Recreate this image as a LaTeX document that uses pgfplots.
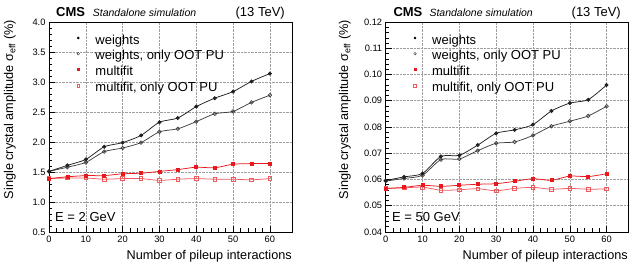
\documentclass[border=0pt]{standalone}
\usepackage{pgfplots}
\pgfplotsset{compat=1.18}
\usepackage{fontspec}
\setmainfont{Liberation Sans}

% series colours
\definecolor{wline}{HTML}{202020}
\definecolor{woot}{HTML}{404040}
\definecolor{mfred}{HTML}{E8181C}
\definecolor{mfoot}{HTML}{F05A5E}

\pgfplotsset{
  cmspanel/.style={
    scale only axis, width=243pt, height=210pt,
    anchor=south west,
    xmin=0, xmax=66,
    xtick={0,10,...,60}, minor x tick num=4,
    minor y tick num=4,
    tick align=inside, tick pos=left,
    major tick length=6pt, minor tick length=3.5pt,
    every tick/.style={black, line width=0.5pt},
    axis line style={line width=0.6pt},
    grid=major,
    major grid style={densely dotted, gray!75, line width=0.5pt},
    ticklabel style={font=\fontsize{9.3}{10}\selectfont},
    /pgf/number format/assume math mode=true,
    xticklabel style={/pgf/number format/precision=0},
    legend style={draw=none, fill=none, anchor=north west,
      at={(rel axis cs:0.09,0.955)},
      font=\fontsize{13}{15}\selectfont,
      nodes={inner sep=0pt, text height=10.5pt, text depth=5.3pt},
      cells={anchor=west}},
    legend cell align=left,
    legend image code/.code={
      \path (-4pt,0pt) (17pt,0pt);
      \draw[#1] plot coordinates {(0pt,3.6pt)};
    },
  },
  wts/.style={color=wline, line width=0.75pt, mark=*, mark size=1.6pt, smooth, tension=0.4},
  wtsoot/.style={color=woot, line width=0.75pt, mark=o, mark size=1.8pt, mark options={line width=0.7pt}, smooth, tension=0.4},
  mf/.style={color=mfred, line width=0.75pt, mark=square*, mark size=1.5pt, smooth, tension=0.4},
  mfoot/.style={color=mfoot, line width=0.75pt, mark=square, mark size=1.8pt, mark options={line width=0.7pt}, smooth, tension=0.4},
}

% E = 2 GeV
\pgfplotstableread{
n   w     woot  mf    mfoot
0   1.51  1.51  1.39  1.39
5   1.61  1.58  1.42  1.40
10  1.71  1.66  1.44  1.40
15  1.92  1.84  1.44  1.38
20  1.99  1.90  1.47  1.39
25  2.11  1.99  1.48  1.39
30  2.33  2.17  1.51  1.36
35  2.40  2.22  1.54  1.38
40  2.59  2.34  1.58  1.39
45  2.73  2.47  1.57  1.38
50  2.84  2.51  1.63  1.38
55  3.01  2.66  1.64  1.37
60  3.14  2.78  1.64  1.39
}\lowE

% E = 50 GeV
\pgfplotstableread{
n   w       woot    mf      mfoot
0   0.0596  0.0594  0.0566  0.0566
5   0.0610  0.0604  0.0570  0.0568
10  0.0623  0.0616  0.0578  0.0571
15  0.0688  0.0676  0.0574  0.0559
20  0.0692  0.0678  0.0578  0.0561
25  0.0731  0.0710  0.0582  0.0565
30  0.0776  0.0738  0.0584  0.0557
35  0.0789  0.0743  0.0593  0.0566
40  0.0809  0.0768  0.0603  0.0570
45  0.0861  0.0803  0.0597  0.0563
50  0.0891  0.0822  0.0613  0.0566
55  0.0904  0.0842  0.0611  0.0563
60  0.0960  0.0879  0.0622  0.0564
}\highE

\newcommand{\lblfont}{\fontsize{12.7}{14}\selectfont}

\begin{document}
\begin{tikzpicture}[x=1pt,y=1pt]
\useasboundingbox (0,0) rectangle (633,268);

% ---------- left panel: E = 2 GeV ----------
\begin{axis}[cmspanel, at={(49pt,36pt)},
  ymin=0.5, ymax=4.0, ytick={0.5,1.0,...,4.0},
  yticklabel style={/pgf/number format/.cd, fixed, fixed zerofill, precision=1}]
  \addlegendimage{only marks, color=black, mark=*, mark size=1.1pt}
  \addlegendentry{weights}
  \addlegendimage{only marks, color=woot, mark=o, mark size=1.3pt}
  \addlegendentry{weights, only OOT PU}
  \addlegendimage{only marks, color=mfred, mark=square*, mark size=1.1pt}
  \addlegendentry{multifit}
  \addlegendimage{only marks, color=mfoot, mark=square, mark size=1.4pt}
  \addlegendentry{multifit, only OOT PU}
  \addplot[wtsoot, forget plot] table[x=n, y=woot] {\lowE};
  \addplot[wts, forget plot] table[x=n, y=w] {\lowE};
  \addplot[mfoot, forget plot] table[x=n, y=mfoot] {\lowE};
  \addplot[mf, forget plot] table[x=n, y=mf] {\lowE};
\end{axis}

% ---------- right panel: E = 50 GeV ----------
\begin{axis}[cmspanel, at={(385.7pt,36pt)},
  ymin=0.04, ymax=0.12, ytick={0.04,0.05,...,0.121},
  yticklabel style={/pgf/number format/.cd, fixed, fixed zerofill, precision=2}]
  \addlegendimage{only marks, color=black, mark=*, mark size=1.1pt}
  \addlegendentry{weights}
  \addlegendimage{only marks, color=woot, mark=o, mark size=1.3pt}
  \addlegendentry{weights, only OOT PU}
  \addlegendimage{only marks, color=mfred, mark=square*, mark size=1.1pt}
  \addlegendentry{multifit}
  \addlegendimage{only marks, color=mfoot, mark=square, mark size=1.4pt}
  \addlegendentry{multifit, only OOT PU}
  \addplot[wtsoot, forget plot] table[x=n, y=woot] {\highE};
  \addplot[wts, forget plot] table[x=n, y=w] {\highE};
  \addplot[mfoot, forget plot] table[x=n, y=mfoot] {\highE};
  \addplot[mf, forget plot] table[x=n, y=mf] {\highE};
\end{axis}

% ---------- titles, labels and annotations ----------
\foreach \xc/\xs/\xr in {56/92.7/285, 393.3/429.3/621} {
  \node[anchor=base west, inner sep=0pt] at (\xc,251) {\fontsize{13}{15}\selectfont\bfseries CMS};
  \node[anchor=base west, inner sep=0pt] at (\xs,251) {\fontsize{10.5}{12}\selectfont\itshape Standalone simulation};
  \node[anchor=base east, inner sep=0pt] at (\xr,251) {\fontsize{13}{15}\selectfont (13 TeV)};
}
\node[anchor=base east, inner sep=0pt] at (292,8) {\lblfont Number of pileup interactions};
\node[anchor=base east, inner sep=0pt] at (628,8) {\lblfont Number of pileup interactions};
\node[rotate=90, anchor=base east, inner sep=0pt] at (13,248) {\lblfont Single crystal amplitude σ\textsubscript{eff} (\%)};
\node[rotate=90, anchor=base east, inner sep=0pt] at (348,248) {\lblfont Single crystal amplitude σ\textsubscript{eff} (\%)};
\node[anchor=base west, inner sep=0pt] at (55,46.5) {\fontsize{13}{15}\selectfont E = 2 GeV};
\node[anchor=base west, inner sep=0pt] at (392,46.5) {\fontsize{13}{15}\selectfont E = 50 GeV};
\end{tikzpicture}
\end{document}
